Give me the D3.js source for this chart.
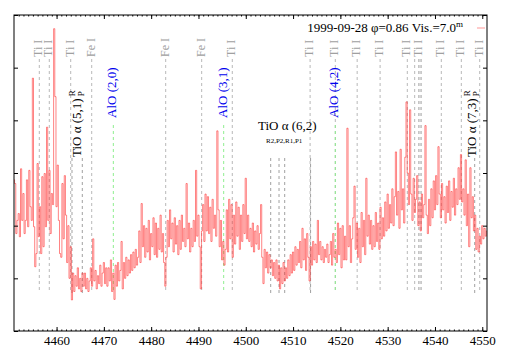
<!DOCTYPE html>
<html>
<head>
<meta charset="utf-8">
<script src="https://cdn.jsdelivr.net/npm/d3@7"></script>
<style>
  body { margin: 0; background: #fff; }
  svg, svg text { font-family: "Liberation Serif", "Times New Roman", Times, serif !important; }
</style>
</head>
<body>
<script>
const W = 509;
const H = 356;
const margin = { top: 15, right: 22, bottom: 25, left: 14 };

// spectrum sampled every 0.25 A starting at 4451.00 (one row = 5 A)
const WL0 = 4451.0;
const WLSTEP = 0.25;
const flux = [
  2.87, 2.80, 1.85, 2.10, 2.23, 1.79, 3.08, 2.10, 2.61, 1.85, 2.10, 2.87, 1.98, 3.05, 2.36, 2.10, 4.80, 1.98, 1.22, 1.47,
  3.18, 1.79, 2.36, 1.47, 2.93, 1.60, 2.99, 1.98, 3.87, 2.10, 3.05, 1.85, 2.61, 2.40, 5.74, 4.45, 2.36, 3.15, 2.10, 1.47,
  1.40, 2.80, 1.75, 2.95, 2.20, 1.30, 2.00, 1.00, 1.60, 0.59, 1.10, 0.75, 1.05, 0.85, 1.20, 0.80, 1.00, 0.75, 1.10, 0.85,
  1.10, 0.80, 1.00, 0.75, 0.95, 1.20, 0.85, 1.75, 0.95, 1.15, 0.80, 1.05, 0.90, 1.25, 0.85, 1.10, 1.30, 0.90, 1.20, 0.85,
  1.20, 0.95, 1.35, 0.75, 1.10, 0.60, 1.25, 0.85, 1.30, 0.95, 1.15, 1.70, 0.80, 1.30, 1.00, 1.40, 1.05, 1.35, 1.10, 1.45,
  1.15, 1.50, 1.20, 1.55, 1.25, 1.40, 1.90, 1.30, 2.42, 1.60, 2.00, 1.40, 1.95, 1.50, 2.10, 1.35, 1.85, 1.60, 2.15, 1.45,
  2.05, 1.40, 1.95, 1.55, 2.20, 1.50, 1.85, 1.30, 0.85, 1.40, 2.10, 1.60, 2.30, 1.75, 2.05, 1.50, 2.15, 1.65, 2.00, 1.45,
  2.10, 1.55, 2.20, 1.70, 1.95, 1.60, 2.80, 1.75, 2.05, 1.50, 1.95, 1.60, 2.10, 1.70, 3.05, 1.80, 2.20, 1.60, 0.80, 1.90,
  2.40, 1.70, 2.60, 1.90, 2.55, 1.85, 2.35, 1.70, 2.50, 1.95, 2.20, 1.80, 3.80, 2.30, 1.60, 2.10, 1.35, 1.70, 1.25, 1.55,
  2.30, 1.50, 2.50, 1.75, 2.40, 1.40, 2.20, 1.65, 2.45, 1.80, 2.35, 1.55, 2.20, 1.70, 2.40, 1.85, 2.90, 1.75, 2.20, 1.70,
  1.95, 1.60, 2.05, 1.50, 1.90, 1.65, 2.00, 1.55, 1.85, 2.40, 1.40, 0.90, 1.55, 1.20, 1.50, 1.10, 1.45, 1.20, 1.35, 1.05,
  1.30, 1.00, 1.35, 0.95, 1.25, 0.80, 1.20, 0.90, 1.30, 0.95, 1.20, 1.00, 1.35, 1.05, 1.45, 1.10, 1.50, 1.15, 1.60, 1.25,
  1.55, 1.30, 1.70, 1.20, 1.95, 1.35, 1.75, 1.15, 1.85, 1.40, 0.95, 1.60, 1.25, 1.70, 1.35, 1.65, 1.30, 2.10, 1.45, 1.70,
  1.35, 1.60, 1.30, 1.55, 1.40, 1.65, 1.30, 1.45, 1.70, 1.25, 1.85, 1.40, 1.55, 1.30, 2.05, 1.45, 1.95, 1.20, 2.00, 1.35,
  1.80, 1.35, 3.85, 1.60, 2.00, 1.30, 1.75, 2.15, 2.75, 1.55, 2.05, 1.40, 1.95, 1.30, 2.25, 1.60, 2.10, 1.45, 2.90, 1.80,
  2.20, 1.65, 2.10, 1.55, 2.00, 1.60, 2.25, 1.70, 2.05, 1.55, 2.35, 1.75, 2.15, 1.80, 2.45, 1.90, 2.60, 1.95, 2.40, 2.05,
  2.70, 2.00, 2.55, 3.40, 2.20, 2.65, 1.95, 3.45, 2.30, 2.70, 2.05, 3.30, 4.35, 3.00, 2.40, 4.20, 2.60, 2.10, 2.90, 2.25,
  2.50, 2.95, 2.00, 2.45, 1.90, 2.60, 2.15, 2.40, 3.90, 2.20, 1.85, 2.50, 2.00, 2.70, 2.15, 2.85, 2.30, 2.95, 2.40, 3.50,
  2.60, 2.15, 2.80, 2.30, 2.55, 2.05, 2.75, 2.25, 2.85, 2.10, 2.65, 2.35, 2.90, 2.20, 2.70, 2.40, 3.10, 2.50, 3.35, 2.45,
  2.70, 2.20, 3.25, 2.00, 2.60, 1.60, 3.10, 2.15, 2.55, 1.90, 2.20, 1.55, 1.95, 1.50, 1.80, 1.65, 2.00, 1.75, 1.95, 1.80,
  1.90
];

const xTicks = [4460, 4470, 4480, 4490, 4500, 4510, 4520, 4530, 4540, 4550];
const yTicks = [0, 1, 2, 3, 4, 5, 6];

// identified lines
const tiLines = [4456.35, 4458.46, 4462.99, 4497.15, 4513.6, 4518.93, 4523.55, 4528.4, 4534.15, 4536.56, 4541.34, 4545.57, 4549.46];
const feLines = [4467.43, 4483.07, 4490.68];
const otherLines = [4535.71, 4536.84, 4537.1];
const aloLines = [4472.0, 4495.33, 4518.93];
const aloLabels = ['AlO (2,0)', 'AlO (3,1)', 'AlO (4,2)'];
const tioHeads = [4463.26, 4465.44, 4505.27, 4507.03, 4508.23, 4513.7, 4548.4];

const legendText = '1999-09-28 φ=0.86 Vis.=7.0';
const SERIF = 'Liberation Serif';
const RED = '#ff3030';

const svg = d3.select('body').append('svg')
  .attr('width', W)
  .attr('height', H)
  .attr('font-family', SERIF);

const x = d3.scaleLinear().domain([4451, 4551]).range([margin.left, W - margin.right]);
const y = d3.scaleLinear().domain([0, 6]).range([H - margin.bottom, margin.top]);

const yTop = y(6);
const yBot = y(0);
const lineEnd = 293;

// marker lines
const marks = svg.append('g');

function dashed(wl, y0, color) {
  marks.append('line')
    .attr('x1', x(wl)).attr('x2', x(wl))
    .attr('y1', y0).attr('y2', lineEnd)
    .attr('stroke', color)
    .attr('stroke-width', 1)
    .attr('stroke-dasharray', '3,3');
}

tiLines.concat(feLines, otherLines).forEach(wl => dashed(wl, 59, '#b8b8b8'));
tioHeads.forEach(wl => dashed(wl, 158, '#a0a0a0'));
aloLines.forEach(wl => dashed(wl, 125, '#90ee90'));

function vlabel(wl, yStart, txt, color, size) {
  return svg.append('text')
    .attr('transform', `translate(${x(wl) + 3},${yStart}) rotate(-90)`)
    .attr('fill', color)
    .attr('font-family', SERIF)
    .attr('font-size', size)
    .text(txt);
}

tiLines.forEach(wl => vlabel(wl, 57, 'Ti I', '#a0a0a0', 12));
feLines.forEach(wl => vlabel(wl, 57, 'Fe I', '#a0a0a0', 12));
aloLines.forEach((wl, i) => vlabel(wl, 118, aloLabels[i], '#0000ee', 13));

function tioLabel(xPos, yStart, band) {
  const g = svg.append('g')
    .attr('transform', `translate(${xPos},${yStart}) rotate(-90)`)
    .attr('font-family', SERIF)
    .attr('fill', '#000');
  const t = g.append('text').attr('font-size', 13).text(`TiO α ${band}`);
  const len = t.node().getComputedTextLength();
  g.append('text').attr('x', len + 2).attr('y', -6).attr('font-size', 9).text('R');
  g.append('text').attr('x', len + 2).attr('y', 3).attr('font-size', 9).text('P');
}

tioLabel(x(4465.44) - 1, 157, '(5,1)');
tioLabel(x(4548.4) + 1, 157, '(7,3)');

svg.append('text')
  .attr('x', 258).attr('y', 130)
  .attr('font-size', 13)
  .text('TiO α (6,2)');
svg.append('text')
  .attr('x', 266).attr('y', 143)
  .attr('font-size', 7)
  .text('R2,P2,R1,P1');

// spectrum
const pts = flux.map((v, i) => [WL0 + i * WLSTEP, v]);
const line = d3.line()
  .x(d => x(d[0]))
  .y(d => y(d[1]))
  .curve(d3.curveStep);

svg.append('path')
  .datum(pts)
  .attr('fill', 'none')
  .attr('stroke', RED)
  .attr('stroke-opacity', 0.8)
  .attr('stroke-width', 0.75)
  .attr('d', line);

// axes
const axes = svg.append('g');

axes.append('g')
  .attr('transform', `translate(0,${yBot})`)
  .call(d3.axisBottom(x).tickValues(d3.range(4452, 4551)).tickSize(-1.5).tickFormat(''));
axes.append('g')
  .attr('transform', `translate(0,${yBot})`)
  .call(d3.axisBottom(x).tickValues(xTicks).tickSize(-4).tickPadding(5).tickFormat(d3.format('d')));
axes.append('g')
  .attr('transform', `translate(0,${yTop})`)
  .call(d3.axisTop(x).tickValues(d3.range(4452, 4551)).tickSize(-1.5).tickFormat(''));
axes.append('g')
  .attr('transform', `translate(0,${yTop})`)
  .call(d3.axisTop(x).tickValues(xTicks).tickSize(-4).tickFormat(''));
axes.append('g')
  .attr('transform', `translate(${x.range()[0]},0)`)
  .call(d3.axisLeft(y).tickValues(yTicks).tickSize(-4).tickFormat(''));
axes.append('g')
  .attr('transform', `translate(${x.range()[1]},0)`)
  .call(d3.axisRight(y).tickValues(yTicks).tickSize(-4).tickFormat(''));

axes.selectAll('.domain').remove();
axes.selectAll('g').attr('font-family', SERIF).attr('font-size', 13);
axes.selectAll('text').attr('fill', '#000');

svg.append('rect')
  .attr('x', x.range()[0]).attr('y', yTop)
  .attr('width', x.range()[1] - x.range()[0])
  .attr('height', yBot - yTop)
  .attr('fill', 'none')
  .attr('stroke', '#000')
  .attr('stroke-width', 1);

// legend
const leg = svg.append('text')
  .attr('x', 463).attr('y', 32)
  .attr('text-anchor', 'end')
  .attr('font-size', 13);
leg.append('tspan').text(legendText);
leg.append('tspan').attr('dy', -5).attr('font-size', 9).text('m');

svg.append('line')
  .attr('x1', 477).attr('x2', 485)
  .attr('y1', 28).attr('y2', 28)
  .attr('stroke', RED)
  .attr('stroke-opacity', 0.5);
</script>
</body>
</html>
